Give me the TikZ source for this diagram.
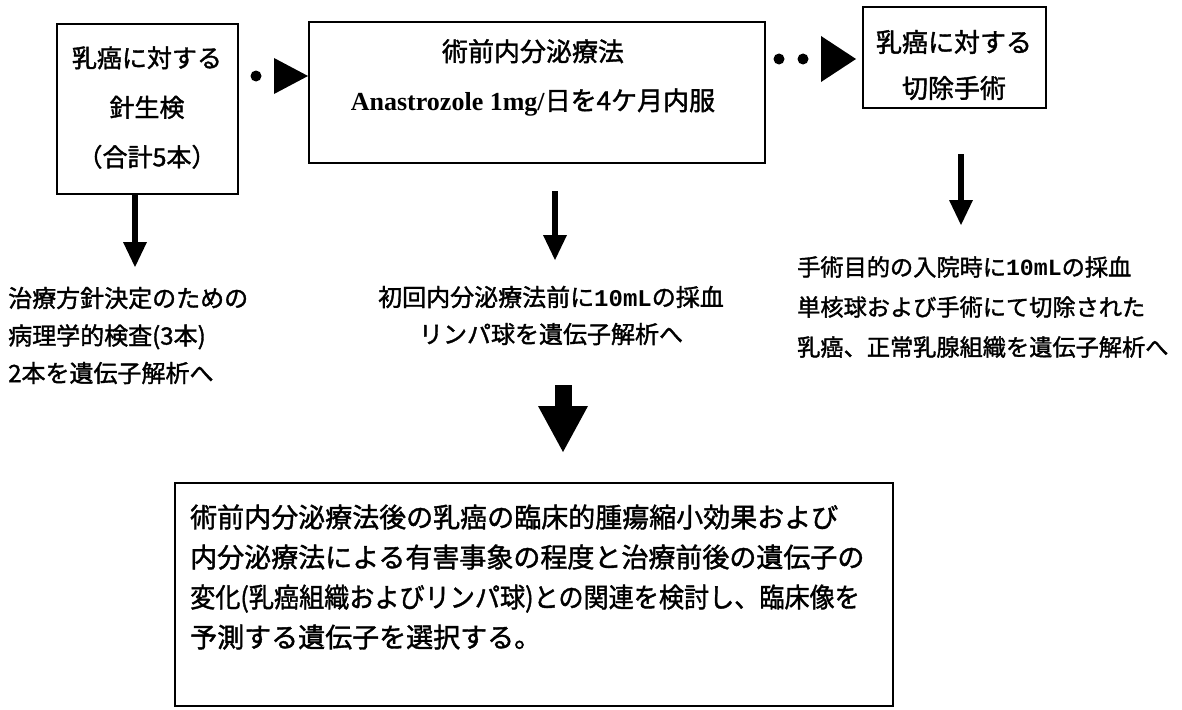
\documentclass[tikz,border=0pt]{standalone}
\usepackage{fontspec}
\setmainfont{Noto Sans CJK JP}[FakeBold=1.5]
\newfontfamily\lat{Liberation Serif}
\newfontfamily\mono{Liberation Mono}
\usetikzlibrary{arrows.meta}
\newcommand\setfs[2]{\fontsize{#1pt}{#2pt}\selectfont}
\begin{document}
\begin{tikzpicture}[x=1pt,y=-1pt,
  box/.style={draw, line width=2pt, inner sep=0pt},
  txt/.style={inner sep=0pt},
  down/.style={line width=6pt, -{Triangle[length=25pt,width=24pt,line width=0pt]}},
  bigdown/.style={line width=17pt, -{Triangle[length=46pt,width=50pt,line width=0pt]}},
  dotline/.style={line width=11pt, line cap=round, dash pattern=on 0pt off 24pt},
]
\useasboundingbox[fill=white] (0,0) rectangle (1182,709);

% boxes
\node[box, minimum width=181pt, minimum height=170pt] (a) at (147.5,109) {};
\node[box, minimum width=456pt, minimum height=141pt] (b) at (537,92.5) {};
\node[box, minimum width=183pt, minimum height=101pt] (c) at (954.5,57.5) {};
\node[box, minimum width=718pt, minimum height=223pt] (d) at (534,594.5) {};

% box texts
\node[txt, align=center, font=\setfs{25}{49.5}] (at) at (147,107.5) {乳癌に対する\\針生検\\（合計5本）};
\node[txt, align=center, font=\setfs{26}{49}] (bt) at (533,77.5) {術前内分泌療法\\{\lat\bfseries Anastrozole 1mg/}日を4ケ月内服};
\node[txt, align=center, font=\setfs{26}{46}] (ct) at (954,65) {乳癌に対する\\切除手術};
\node[txt, align=left, anchor=west, font=\setfs{27}{40}] (dt) at (190,577) {術前内分泌療法後の乳癌の臨床的腫瘍縮小効果および\\内分泌療法による有害事象の程度と治療前後の遺伝子の\\\scalebox{0.93}[1]{変化(乳癌組織およびリンパ球)との関連を検討し、臨床像を}\\予測する遺伝子を選択する。};

% outcome texts
\node[txt, align=left, anchor=west, font=\setfs{24}{37.5}] (lt) at (8,335.5) {治療方針決定のための\\病理学的検査(3本)\\2本を遺伝子解析へ};
\node[txt, align=center, font=\setfs{24}{37}] (mt) at (551,315.5) {初回内分泌療法前に{\mono\bfseries 10mL}の採血\\リンパ球を遺伝子解析へ};
\node[txt, align=left, anchor=west, font=\setfs{23.2}{40}] (rt) at (797,307) {手術目的の入院時に{\mono\bfseries 10mL}の採血\\単核球および手術にて切除された\\乳癌、正常乳腺組織を遺伝子解析へ};

% dotted connectors
\draw[dotline, dash phase=7pt, -{Triangle[length=34pt,width=36pt,line width=0pt]}]
  ([yshift=-53pt]a.north east) -- ([yshift=-55pt]b.north west);
\draw[dotline, dash phase=11pt, shorten >=6pt, -{Triangle[length=35pt,width=46pt,line width=0pt]}]
  ([yshift=-38pt]b.north east) -- ([yshift=-53pt]c.north west);

% down arrows
\coordinate (le) at (135,267);
\coordinate (me) at (555,260);
\coordinate (re) at (961,225);
\coordinate (bs) at (563,385);
\draw[down] ([xshift=-12.5pt]a.south) -- (le);
\draw[down] ([xshift=18pt,yshift=-27pt]b.south) -- (me);
\draw[down] ([xshift=6.5pt,yshift=-45pt]c.south) -- (re);
\draw[bigdown] (bs) -- ([xshift=29pt,yshift=30pt]d.north);
\end{tikzpicture}
\end{document}
